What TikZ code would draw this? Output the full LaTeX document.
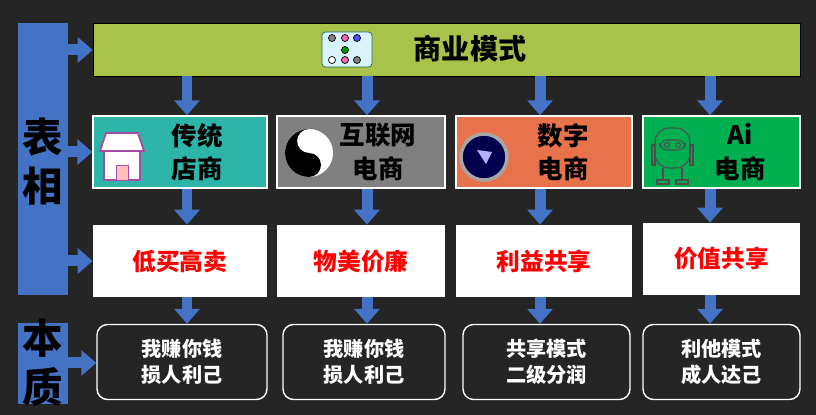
\documentclass[tikz,border=0pt]{standalone}
\usepackage{fontspec}
\setmainfont{Noto Sans CJK SC}
\usetikzlibrary{arrows.meta}
\definecolor{bg}{HTML}{252525}
\definecolor{barblue}{HTML}{4472C4}
\definecolor{olive}{HTML}{A9C34A}
\definecolor{teal}{HTML}{2CB5A8}
\definecolor{grayb}{HTML}{808080}
\definecolor{orangeb}{HTML}{E8734A}
\definecolor{greenb}{HTML}{00B050}
\tikzset{
  kind/.style={draw=white, line width=0.8pt, minimum height=72*0.02cm, inner sep=0pt},
  trait/.style={fill=white, minimum height=72*0.02cm, font=\bfseries\fontsize{13.5}{15}\selectfont, text=red, inner sep=0pt},
  essence/.style={draw=white, line width=0.8pt, rounded corners=6pt, fill=bg, minimum height=75*0.02cm, text=white, align=center, font=\bfseries\fontsize{11.5}{15}\selectfont, inner sep=0pt},
  flow/.style={barblue, line width=0.22cm, -{Triangle[width=0.5cm,length=0.3cm]}},
}
\begin{document}
\begin{tikzpicture}[x=0.02cm,y=-0.02cm]
\fill[bg] (0,0) rectangle (816,415);
\useasboundingbox (0,0) rectangle (816,415);
% left bars
\fill[barblue] (18,23) rectangle (68,295);
\fill[barblue] (18,323) rectangle (68,404);
\node[font=\bfseries\fontsize{23}{28}\selectfont, align=center] at (43,162) {表\\相};
\node[font=\bfseries\fontsize{23}{28}\selectfont, align=center] at (43,363) {本\\质};
% top bar
\node[draw=black, fill=olive, minimum width=707*0.02cm, minimum height=53*0.02cm, inner sep=0pt] (model) at (446.5,49.5) {};
\node[font=\bfseries\fontsize{16}{18}\selectfont] at (470,49) {商业模式};
\draw[fill=cyan!15, draw=teal!60!black, rounded corners=2pt] (322,32) rectangle (372,67);
\foreach \x/\c in {332/gray,345/magenta!60,357/blue!70} \draw[fill=\c] (\x,38) circle (3.5);
\draw[fill=green!60!black] (345,50) circle (3.5);
\foreach \x/\c in {332/white,345/magenta!60,357/gray} \draw[fill=\c] (\x,60) circle (3.5);
% kind row
\node[kind, fill=teal, minimum width=174*0.02cm] (store) at (180,152) {};
\node[kind, fill=grayb, minimum width=168*0.02cm] (web) at (361,152) {};
\node[kind, fill=orangeb, minimum width=176*0.02cm] (digit) at (544,152) {};
\node[kind, fill=greenb, minimum width=157*0.02cm] (ai) at (721.5,152) {};
\begin{scope}[font=\bfseries\fontsize{14.5}{19}\selectfont, align=center]
\node at (197,152) {传统\\店商};
\node at (378,152) {互联网\\电商};
\node at (563,152) {数字\\电商};
\node at (740,152) {Ai\\电商};
\end{scope}
% store icon
\draw[fill=white, draw=violet!70, line width=1pt] (104,150) rectangle (140,180);
\draw[fill=white, draw=violet!70, line width=1pt] (106,133) -- (138,133) -- (144,151) -- (100,151) -- cycle;
\draw[fill=pink, draw=violet!70] (116,165) rectangle (128,180);
% yin-yang
\begin{scope}[shift={(309,153)}, yscale=-1]
\fill[white] (0,0) circle (24);
\fill[black] (0,24) arc (90:270:24) arc (-90:90:12) arc (270:90:12);
\fill[white] (0,12) circle (3.5);
\fill[black] (0,-12) circle (3.5);
\end{scope}
% digital badge
\draw[fill=blue!30!black, draw=gray!70, line width=2pt] (484,157) circle (23);
\fill[white!70!blue] (477,150) -- (492,152) -- (486,164) -- cycle;
% robot
\begin{scope}[draw=black!70, line width=0.6pt]
\draw[rounded corners=8pt] (655,128) rectangle (690,168);
\draw[rounded corners=4pt] (660,140) rectangle (685,150);
\draw (667,145) circle (2.5) (678,145) circle (2.5);
\draw (652,145) rectangle (655,165) (690,145) rectangle (693,165);
\draw (663,168) -- (663,180) (682,168) -- (682,180);
\draw (657,180) rectangle (669,184) (676,180) rectangle (688,184);
\end{scope}
% trait row
\node[trait, minimum width=174*0.02cm] (t1) at (180,261) {低买高卖};
\node[trait, minimum width=168*0.02cm] (t2) at (361,261) {物美价廉};
\node[trait, minimum width=176*0.02cm] (t3) at (544,261) {利益共享};
\node[trait, minimum width=157*0.02cm] (t4) at (721.5,259) {价值共享};
% essence row
\node[essence, minimum width=170*0.02cm] (e1) at (182,362) {我赚你钱\\损人利己};
\node[essence, minimum width=162*0.02cm] (e2) at (364,362) {我赚你钱\\损人利己};
\node[essence, minimum width=167*0.02cm] (e3) at (546.5,362) {共享模式\\二级分润};
\node[essence, minimum width=157*0.02cm] (e4) at (721.5,362) {利他模式\\成人达己};
% arrows down
\coordinate (m1) at (187,76); \coordinate (m2) at (367,76);
\coordinate (m3) at (540,76); \coordinate (m4) at (710,76);
\draw[flow] (m1) -- (m1 |- store.north);
\draw[flow] (m2) -- (m2 |- web.north);
\draw[flow] (m3) -- (m3 |- digit.north);
\draw[flow] (m4) -- (m4 |- ai.north);
\draw[flow] (store.south -| m1) -- (t1.north -| m1);
\draw[flow] (web.south -| m2) -- (t2.north -| m2);
\draw[flow] (digit.south -| m3) -- (t3.north -| m3);
\draw[flow] (ai.south -| m4) -- (t4.north -| m4);
\draw[flow] (t1.south -| m1) -- (e1.north -| m1);
\draw[flow] (t2.south -| m2) -- (e2.north -| m2);
\draw[flow] (t3.south -| m3) -- (e3.north -| m3);
\draw[flow] (t4.south -| m4) -- (e4.north -| m4);
% arrows right
\foreach \y/\n in {50/model,152/store,261/t1,363/e1}
  \draw[flow] (68,\y) -- (\n.west |- 0,\y);
\end{tikzpicture}
\end{document}
